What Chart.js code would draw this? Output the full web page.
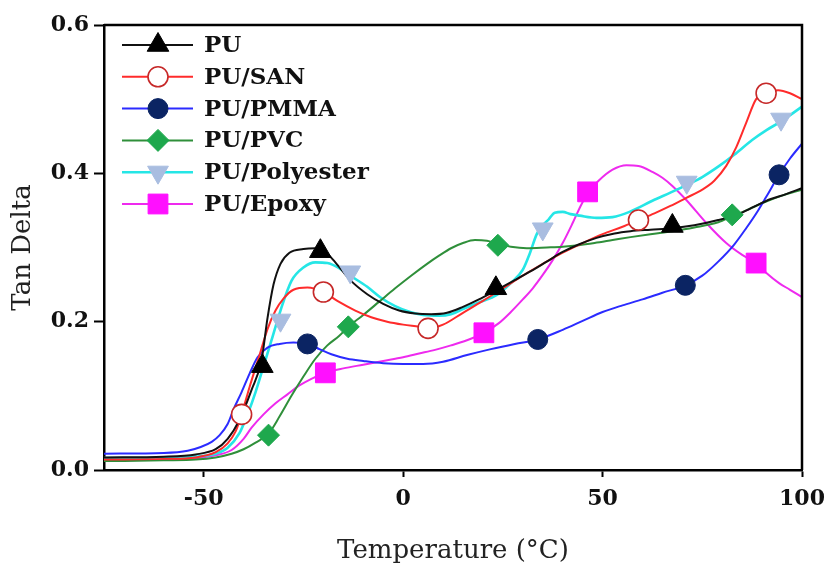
<!DOCTYPE html>
<html><head><meta charset="utf-8">
<script src="https://cdn.jsdelivr.net/npm/chart.js@4.4.1/dist/chart.umd.min.js"></script>
<style>html,body{margin:0;padding:0;background:#fff;} #c{display:block;}</style>
</head><body>
<canvas id="c" width="831" height="576"></canvas>
<script>
// ---------- data (temperature in °C, tan delta) ----------
const seriesNames = ["PU", "PU/SAN", "PU/PMMA", "PU/PVC", "PU/Polyester", "PU/Epoxy"];

const puT = [-75,-60,-52,-47,-44,-41,-38,-35.5,-34,-32.5,-30.75,-28.5,-25,-22,-19.5,-17,-13.25,-9,-5,-1,3,7,11,15,19,23.5,28,32,36,40,44,48.5,53,57,62,67.5,73,79,84,88,92,96,100];
const puV = [0.017,0.018,0.021,0.028,0.042,0.068,0.108,0.148,0.205,0.25,0.278,0.293,0.298,0.299,0.294,0.28,0.256,0.237,0.224,0.215,0.211,0.21,0.212,0.22,0.23,0.243,0.256,0.268,0.281,0.294,0.304,0.313,0.319,0.322,0.324,0.326,0.33,0.337,0.345,0.355,0.365,0.372,0.38];

const sanT = [-75,-60,-52,-47,-44,-42,-40.5,-38.5,-36,-34,-32,-30,-27.5,-24,-20,-16.5,-12,-8,-4,0,4,6.25,10,15,20,25,30,35,40,45,50,55,59,63,67,71,75,78,81,83.5,86,88.5,91,94,97,100];
const sanV = [0.014,0.015,0.017,0.024,0.036,0.052,0.075,0.112,0.155,0.19,0.215,0.231,0.243,0.246,0.24,0.228,0.215,0.206,0.2,0.196,0.193,0.191,0.196,0.212,0.228,0.245,0.262,0.278,0.293,0.306,0.318,0.328,0.337,0.346,0.356,0.367,0.378,0.39,0.41,0.435,0.468,0.5,0.508,0.512,0.508,0.5];

const pmmaT = [-75,-60,-54,-50.75,-48,-46,-44,-42.5,-40.5,-38.5,-36.5,-34,-31,-27.5,-24,-21,-18,-14,-10,-5,0,5,10,16,22,28,33.75,40,45,50,55,60,65,70.75,75,79,83,86,89,91,94.25,97,100];
const pmmaV = [0.022,0.023,0.026,0.031,0.038,0.047,0.062,0.082,0.105,0.13,0.152,0.165,0.17,0.172,0.17,0.163,0.156,0.15,0.147,0.144,0.143,0.143,0.146,0.155,0.163,0.17,0.176,0.189,0.201,0.213,0.222,0.23,0.239,0.249,0.262,0.281,0.304,0.326,0.35,0.368,0.398,0.42,0.44];

const pvcT = [-75,-60,-52,-47,-43,-40,-37,-33.75,-31,-28,-25,-22,-19,-16,-13.75,-10,-6,-2,2,6,9,12,15,18,21,23.75,27,31,36,40,44,48,52.5,57,62,67.5,73,79,82.5,86,91,95,100];
const pvcV = [0.012,0.013,0.014,0.017,0.022,0.028,0.037,0.049,0.072,0.1,0.126,0.15,0.168,0.181,0.193,0.209,0.227,0.245,0.262,0.278,0.289,0.299,0.306,0.31,0.309,0.305,0.301,0.299,0.3,0.301,0.303,0.306,0.31,0.314,0.318,0.322,0.327,0.334,0.342,0.35,0.362,0.37,0.378];

const polyT = [-75,-60,-52,-47,-44,-41,-39,-37,-35,-33,-30.75,-28,-25,-22,-19,-16,-13.25,-9,-5.75,-2,1.75,5,9,12,15,19,23.5,27,30,31.75,33.5,35,36.5,38,40,42,44.25,48.5,52.5,56.75,62.5,67,71,75,79.25,83,87.5,91,94.75,100];
const polyV = [0.016,0.016,0.018,0.022,0.03,0.05,0.075,0.105,0.14,0.175,0.215,0.255,0.273,0.28,0.279,0.272,0.262,0.247,0.233,0.221,0.213,0.209,0.208,0.21,0.217,0.226,0.236,0.252,0.27,0.292,0.318,0.33,0.338,0.347,0.348,0.345,0.343,0.34,0.341,0.348,0.363,0.374,0.384,0.395,0.41,0.425,0.445,0.458,0.47,0.49];

const epoxyT = [-75,-60,-52,-47,-43,-40,-38,-35,-32,-29,-26,-23,-19.5,-15,-10,-5,0,4,8,12,16,20.25,24,27,30,32.5,35,37.5,40,42.5,44.5,46.25,49,52.5,56,59,62.5,65,67.5,71,76,81,85,88.5,91,94.25,97,100];
const epoxyV = [0.013,0.014,0.016,0.02,0.027,0.042,0.057,0.075,0.09,0.102,0.114,0.123,0.131,0.137,0.142,0.147,0.152,0.157,0.162,0.168,0.175,0.185,0.198,0.213,0.23,0.245,0.263,0.283,0.306,0.333,0.356,0.373,0.39,0.405,0.411,0.41,0.402,0.394,0.383,0.364,0.333,0.306,0.29,0.279,0.266,0.252,0.243,0.233];

// marker positions
const puMarkT = [-35.3,-20.75,23.25,67.5];
const puMarkV = [0.14,0.295,0.245,0.329];
const sanMarkT = [-40.5,-20,6.25,59,91];
const sanMarkV = [0.075,0.24,0.191,0.337,0.508];
const pmmaMarkT = [-24,33.75,70.75,94.25];
const pmmaMarkV = [0.17,0.176,0.249,0.398];
const pvcMarkT = [-33.75,-13.75,23.75,82.5];
const pvcMarkV = [0.047,0.193,0.303,0.344];
const polyMarkT = [-30.75,-13.25,35,71.1,94.75];
const polyMarkV = [0.202,0.267,0.325,0.388,0.473];
const epoxyMarkT = [-19.5,20.25,46.25,88.5];
const epoxyMarkV = [0.131,0.185,0.375,0.279];

const xTickValues = [-50, 0, 50, 100];
const yTickValues = [0.0, 0.2, 0.4, 0.6];

// ---------- styles ----------
const styles = [
  {line:'#111111', lw:2,   pt:'triangle', rot:0,   r:12.5, fill:'#000000', stroke:'#000000', bw:1},
  {line:'#ff2b2b', lw:2,   pt:'circle',   rot:0,   r:10,   fill:'#ffffff', stroke:'#c62828', bw:1.6},
  {line:'#2b2bff', lw:2,   pt:'circle',   rot:0,   r:10,   fill:'#0b2463', stroke:'#0b2463', bw:1},
  {line:'#2f8f3a', lw:2,   pt:'rectRot',  rot:0,   r:11,   fill:'#1ea84d', stroke:'#1ea84d', bw:1},
  {line:'#25e6e6', lw:2.6, pt:'triangle', rot:180, r:12,   fill:'#a9bde0', stroke:'#a9bde0', bw:1},
  {line:'#ee2aee', lw:2,   pt:'rect',     rot:0,   r:14,   fill:'#ff10ff', stroke:'#ff10ff', bw:1}
];

const lineData = [[puT,puV],[sanT,sanV],[pmmaT,pmmaV],[pvcT,pvcV],[polyT,polyV],[epoxyT,epoxyV]];
const markData = [[puMarkT,puMarkV],[sanMarkT,sanMarkV],[pmmaMarkT,pmmaMarkV],[pvcMarkT,pvcMarkV],[polyMarkT,polyMarkV],[epoxyMarkT,epoxyMarkV]];
const toXY = (t, v) => t.map((x, i) => ({x: x, y: v[i]}));

const datasets = [];
markData.forEach((m, i) => {
  const s = styles[i];
  datasets.push({
    label: seriesNames[i] + ' markers', data: toXY(m[0], m[1]), showLine: false,
    pointStyle: s.pt, rotation: s.rot, pointRadius: s.r, pointBackgroundColor: s.fill,
    pointBorderColor: s.stroke, pointBorderWidth: s.bw, order: 0
  });
});
lineData.forEach((d, i) => {
  const s = styles[i];
  datasets.push({
    label: seriesNames[i], data: toXY(d[0], d[1]), borderColor: s.line, borderWidth: s.lw,
    pointRadius: 0, fill: false, cubicInterpolationMode: 'monotone', order: 1
  });
});

function drawMarker(ctx, s, x, y) {
  const r = s.r;
  ctx.save();
  ctx.fillStyle = s.fill; ctx.strokeStyle = s.stroke; ctx.lineWidth = s.bw;
  ctx.beginPath();
  if (s.pt === 'circle') {
    ctx.arc(x, y, r, 0, Math.PI * 2);
  } else if (s.pt === 'triangle') {
    let a = s.rot * Math.PI / 180;
    for (let k = 0; k < 3; k++) {
      const px = x + Math.sin(a) * r, py = y - Math.cos(a) * r;
      if (k === 0) ctx.moveTo(px, py); else ctx.lineTo(px, py);
      a += 2 * Math.PI / 3;
    }
    ctx.closePath();
  } else if (s.pt === 'rectRot') {
    ctx.moveTo(x, y - r); ctx.lineTo(x + r, y); ctx.lineTo(x, y + r); ctx.lineTo(x - r, y); ctx.closePath();
  } else if (s.pt === 'rect') {
    const h = r * Math.SQRT1_2; ctx.rect(x - h, y - h, 2 * h, 2 * h);
  }
  ctx.fill(); ctx.stroke();
  ctx.restore();
}

const legendPlugin = {
  id: 'insideLegend',
  afterDraw(chart) {
    const ctx = chart.ctx, a = chart.chartArea;
    seriesNames.forEach((name, i) => {
      const s = styles[i];
      const y = a.top + 20 + i * 31.8;
      ctx.save();
      ctx.strokeStyle = s.line; ctx.lineWidth = s.lw;
      ctx.beginPath(); ctx.moveTo(a.left + 18, y); ctx.lineTo(a.left + 89, y); ctx.stroke();
      ctx.restore();
      drawMarker(ctx, s, a.left + 54, y);
      ctx.save();
      ctx.fillStyle = '#111'; ctx.font = "bold 23px 'DejaVu Serif'";
      ctx.textAlign = 'left'; ctx.textBaseline = 'middle';
      ctx.fillText(name, a.left + 100, y + 1);
      ctx.restore();
    });
  }
};

const framePlugin = {
  id: 'frame',
  afterDatasetsDraw(chart) {
    const ctx = chart.ctx, a = chart.chartArea;
    ctx.save();
    ctx.strokeStyle = '#000'; ctx.lineWidth = 2.5;
    ctx.beginPath();
    ctx.moveTo(a.left, a.top); ctx.lineTo(a.right, a.top); ctx.lineTo(a.right, a.bottom);
    ctx.stroke();
    ctx.restore();
  }
};

const tickFont = {family: "'DejaVu Serif'", size: 22, weight: 'bold'};

new Chart(document.getElementById('c'), {
  type: 'line',
  data: {datasets: datasets},
  options: {
    responsive: false, animation: false, events: [], devicePixelRatio: 1,
    layout: {padding: {left: 0, right: 29, top: 25, bottom: 0}},
    plugins: {legend: {display: false}, tooltip: {enabled: false}},
    scales: {
      x: {
        type: 'linear', min: -75, max: 100,
        afterBuildTicks: (sc) => { sc.ticks = xTickValues.map(v => ({value: v})); },
        afterFit: (sc) => { sc.height = 106; },
        ticks: {font: {family: "'DejaVu Serif'", size: 22, weight: 'bold', lineHeight: 1.6},
                color: '#111', padding: 5, maxRotation: 0, callback: (v) => String(v)},
        grid: {display: true, drawOnChartArea: false, drawTicks: true, tickLength: 7, tickWidth: 2, tickColor: '#000'},
        border: {display: true, color: '#000', width: 2.5},
        title: {display: true, text: 'Temperature (°C)', color: '#222',
                font: {family: "'DejaVu Serif'", size: 26}, padding: {top: 0, bottom: 9}}
      },
      y: {
        type: 'linear', min: 0, max: 0.6,
        afterBuildTicks: (sc) => { sc.ticks = yTickValues.map(v => ({value: v})); },
        afterFit: (sc) => { sc.width = 104; },
        ticks: {font: tickFont, color: '#111', padding: 5, callback: (v) => Number(v).toFixed(1)},
        grid: {display: true, drawOnChartArea: false, drawTicks: true, tickLength: 10, tickWidth: 2, tickColor: '#000'},
        border: {display: true, color: '#000', width: 2.5},
        title: {display: true, text: 'Tan Delta', color: '#222',
                font: {family: "'DejaVu Serif'", size: 26}, padding: {top: 8, bottom: 0}}
      }
    }
  },
  plugins: [framePlugin, legendPlugin]
});
</script>
</body></html>
